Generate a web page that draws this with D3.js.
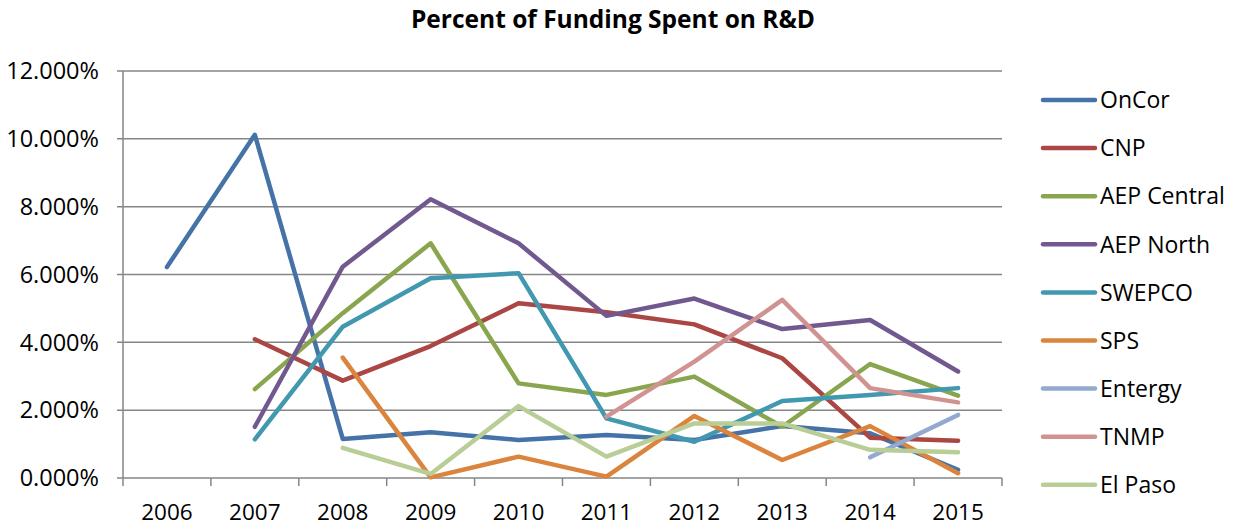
<!DOCTYPE html>
<html><head><meta charset="utf-8">
<script src="https://cdn.jsdelivr.net/npm/d3@7"></script>
<style>body{margin:0;background:#fff}svg text{font-family:"Open Sans",sans-serif}</style>
</head><body><svg id="c" width="1234" height="527"></svg>
<script>
const years = ["2006","2007","2008","2009","2010","2011","2012","2013","2014","2015"];
const yTicks = [0,2,4,6,8,10,12];
const seriesNames = ["OnCor","CNP","AEP Central","AEP North","SWEPCO","SPS","Entergy","TNMP","El Paso"];
const seriesColors = ["#4572A7","#AA4643","#89A54E","#71588F","#4198AF","#DB843D","#93A9CF","#D19392","#B9CD96"];
const onCor      = [6.22,10.12,1.15,1.35,1.12,1.27,1.12,1.53,1.32,0.24];
const cnp        = [null,4.09,2.87,3.89,5.15,4.89,4.53,3.53,1.19,1.10];
const aepCentral = [null,2.62,4.86,6.92,2.79,2.45,2.99,1.51,3.36,2.43];
const aepNorth   = [null,1.51,6.23,8.22,6.92,4.78,5.29,4.39,4.66,3.14];
const swepco     = [null,1.14,4.46,5.89,6.04,1.76,1.07,2.27,2.45,2.65];
const sps        = [null,null,3.55,0.02,0.63,0.04,1.83,0.53,1.53,0.14];
const entergy    = [null,null,null,null,null,null,null,null,0.61,1.86];
const tnmp       = [null,null,null,null,null,1.81,3.43,5.25,2.65,2.23];
const elPaso     = [null,null,0.89,0.12,2.12,0.63,1.61,1.61,0.83,0.76];
const seriesValues = [onCor,cnp,aepCentral,aepNorth,swepco,sps,entergy,tnmp,elPaso];

const svg = d3.select("#c");
const L=123, R=1002, T=71, B=478;
const x = d3.scaleBand().domain(years).range([L,R]);
const y = d3.scaleLinear().domain([0,12]).range([B,T]);
const grid="#868686";

svg.append("text").attr("x",613).attr("y",28).attr("text-anchor","middle")
  .attr("font-size",24.5).attr("font-weight","bold").text("Percent of Funding Spent on R&D");

// gridlines
svg.append("g").selectAll("line").data(yTicks).join("line")
  .attr("x1",L-6).attr("x2",R).attr("y1",d=>y(d)).attr("y2",d=>y(d))
  .attr("stroke",grid).attr("stroke-width",1.5);
// y axis line
svg.append("line").attr("x1",L).attr("x2",L).attr("y1",T).attr("y2",B).attr("stroke",grid).attr("stroke-width",1.5);
// x tick marks at band edges
const edges = years.map(d=>x(d)).concat([R]);
svg.append("g").selectAll("line").data(edges).join("line")
  .attr("x1",d=>d).attr("x2",d=>d).attr("y1",B).attr("y2",B+8).attr("stroke",grid).attr("stroke-width",1.5);
// y labels
svg.append("g").selectAll("text").data(yTicks).join("text")
  .attr("x",99).attr("y",d=>y(d)+8.3).attr("text-anchor","end").attr("font-size",23.5)
  .text(d=>d3.format(".3f")(d)+"%");
// x labels
svg.append("g").selectAll("text").data(years).join("text")
  .attr("x",d=>x(d)+x.bandwidth()/2).attr("y",520).attr("text-anchor","middle").attr("font-size",22.5)
  .text(d=>d);

const line = d3.line().defined(d=>d.v!=null).x(d=>x(d.k)+x.bandwidth()/2).y(d=>y(d.v));
seriesValues.forEach((vals,i)=>{
  svg.append("path").datum(vals.map((v,j)=>({k:years[j],v})))
    .attr("d",line).attr("fill","none").attr("stroke",seriesColors[i])
    .attr("stroke-width",4.5).attr("stroke-linejoin","round").attr("stroke-linecap","round");
});

// legend
const lg = svg.append("g");
seriesNames.forEach((n,i)=>{
  const yy = 100 + i*48.1;
  lg.append("line").attr("x1",1043).attr("x2",1095).attr("y1",yy).attr("y2",yy)
    .attr("stroke",seriesColors[i]).attr("stroke-width",4.5).attr("stroke-linecap","round");
  lg.append("text").attr("x",1100).attr("y",yy+8.2).attr("font-size",23).text(n);
});
</script></body></html>
